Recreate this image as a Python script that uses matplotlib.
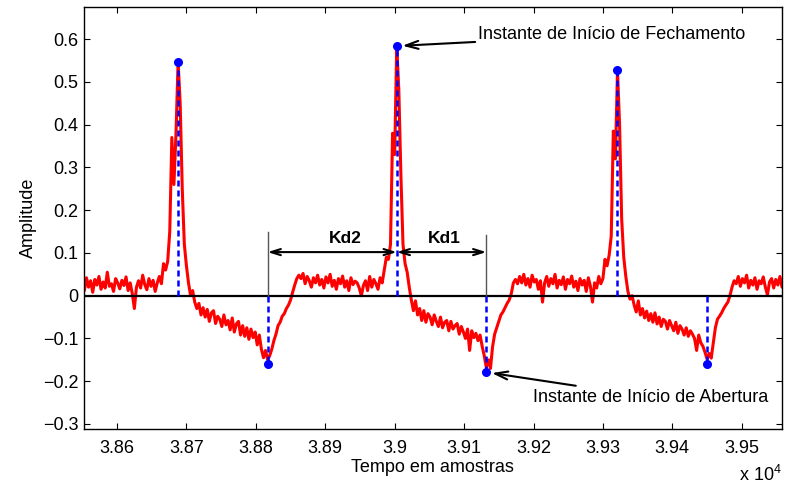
import matplotlib
matplotlib.use("Agg")
import matplotlib.pyplot as plt
import numpy as np

plt.rcParams["font.family"] = ["Liberation Sans", "DejaVu Sans"]
plt.rcParams["mathtext.fontset"] = "custom"
plt.rcParams["mathtext.rm"] = "Liberation Sans"

# sinal amostrado a cada 3 amostras a partir de 38550
amostra_inicial = 38550
passo = 3
amplitude = [
	0.030, 0.012, 0.042, 0.020, 0.035, 0.008, 0.038, 0.025, 0.045, 0.015,
	0.032, 0.018, 0.055, 0.022, 0.028, 0.010, 0.040, 0.030, 0.016, 0.036,
	0.024, 0.044, 0.012, 0.030, 0.005, -0.030, 0.020, 0.035, 0.018, 0.048,
	0.026, 0.014, 0.040, 0.022, 0.036, 0.010, 0.030, 0.045, 0.028, 0.075,
	0.060, 0.080, 0.150, 0.370, 0.260, 0.380, 0.547, 0.450, 0.250, 0.120,
	0.070, 0.030, 0.000, 0.012, -0.015, -0.030, -0.018, -0.045, -0.028, -0.050,
	-0.032, -0.060, -0.040, -0.035, -0.065, -0.048, -0.055, -0.072, -0.045, -0.068,
	-0.058, -0.080, -0.052, -0.085, -0.066, -0.060, -0.092, -0.070, -0.095, -0.075,
	-0.102, -0.078, -0.098, -0.085, -0.115, -0.092, -0.125, -0.145, -0.128, -0.150,
	-0.140, -0.125, -0.105, -0.090, -0.070, -0.062, -0.048, -0.042, -0.030, -0.022,
	-0.010, 0.008, 0.025, 0.040, 0.048, 0.040, 0.052, 0.028, 0.045, 0.035,
	0.020, 0.042, 0.030, 0.048, 0.025, 0.038, 0.018, 0.044, 0.030, 0.050,
	0.022, 0.036, 0.015, 0.040, 0.028, 0.046, 0.020, 0.035, 0.012, 0.042,
	0.026, 0.034, 0.030, 0.018, 0.000, 0.024, 0.035, 0.012, 0.045, 0.020,
	0.038, 0.028, 0.015, 0.042, 0.030, 0.060, 0.090, 0.085, 0.120, 0.380,
	0.330, 0.584, 0.480, 0.280, 0.120, 0.075, 0.055, 0.020, -0.010, -0.035,
	-0.012, -0.045, -0.030, -0.058, -0.035, -0.062, -0.042, -0.050, -0.068, -0.045,
	-0.060, -0.072, -0.050, -0.075, -0.062, -0.058, -0.082, -0.060, -0.078, -0.070,
	-0.065, -0.090, -0.072, -0.085, -0.100, -0.078, -0.128, -0.082, -0.098, -0.088,
	-0.105, -0.092, -0.118, -0.140, -0.168, -0.150, -0.170, -0.120, -0.090, -0.075,
	-0.060, -0.045, -0.038, -0.028, -0.018, -0.010, 0.005, 0.030, 0.038, 0.028,
	0.045, 0.030, 0.050, 0.025, 0.040, 0.020, 0.048, 0.032, 0.038, 0.015,
	0.035, -0.015, 0.030, 0.045, 0.022, 0.040, 0.028, 0.050, 0.018, 0.036,
	0.026, 0.044, 0.015, 0.038, 0.028, 0.046, 0.020, 0.034, 0.012, 0.040,
	0.025, 0.036, 0.010, 0.042, 0.022, -0.015, 0.030, 0.018, 0.045, 0.028,
	0.040, 0.085, 0.070, 0.095, 0.140, 0.385, 0.320, 0.527, 0.400, 0.180,
	0.090, 0.045, 0.010, -0.008, 0.000, -0.022, -0.038, -0.012, -0.045, -0.030,
	-0.052, -0.036, -0.058, -0.042, -0.062, -0.040, -0.066, -0.050, -0.072, -0.055,
	-0.060, -0.078, -0.058, -0.070, -0.082, -0.062, -0.088, -0.070, -0.078, -0.092,
	-0.075, -0.095, -0.082, -0.090, -0.100, -0.128, -0.092, -0.110, -0.118, -0.132,
	-0.148, -0.135, -0.146, -0.110, -0.075, -0.055, -0.048, -0.040, -0.030, -0.022,
	-0.015, 0.000, 0.020, 0.035, 0.028, 0.045, 0.022, 0.040, 0.030, 0.048,
	0.018, 0.036, 0.025, 0.042, 0.015, 0.035, 0.028, 0.044, 0.020, 0.002,
	0.032, 0.040, 0.018, 0.038, 0.025, 0.045, 0.020, 0.035,
]

# instantes de inicio de fechamento (picos) e de abertura (vales)
fech_x = [38688, 39003, 39321]
fech_y = [0.547, 0.584, 0.527]
aber_x = [38817, 39132, 39450]
aber_y = [-0.160, -0.179, -0.160]

xticks = [38600, 38700, 38800, 38900, 39000, 39100, 39200, 39300, 39400, 39500]
xtick_labels = ["3.86", "3.87", "3.88", "3.89", "3.9", "3.91", "3.92", "3.93", "3.94", "3.95"]
yticks = [-0.3, -0.2, -0.1, 0, 0.1, 0.2, 0.3, 0.4, 0.5, 0.6]
ytick_labels = ["\u22120.3", "\u22120.2", "\u22120.1", "0", "0.1", "0.2", "0.3", "0.4", "0.5", "0.6"]

t = amostra_inicial + passo * np.arange(len(amplitude))

fig = plt.figure(figsize=(7.88, 4.91), dpi=100)
ax = fig.add_axes([0.1062, 0.1257, 0.8862, 0.8607])

ax.plot(t, amplitude, color="#ff0000", linewidth=2.2, zorder=2)
ax.axhline(0, color="black", linewidth=1.6, zorder=3)

# linhas tracejadas ligando os instantes ao eixo zero
for xs, ys in ((fech_x, fech_y), (aber_x, aber_y)):
	for x, y in zip(xs, ys):
		ax.plot([x, x], [0, y], color="#0000ff", linewidth=1.8,
				dashes=(2.4, 1.6), zorder=4)
	ax.plot(xs, ys, "o", color="#0000ff", markersize=5.5, zorder=5)

# marcadores dos intervalos Kd1 e Kd2
ax.plot([aber_x[0], aber_x[0]], [0, 0.150], color="#555555", linewidth=1.0, zorder=3)
ax.plot([aber_x[1], aber_x[1]], [0, 0.142], color="#555555", linewidth=1.0, zorder=3)
seta = dict(arrowstyle="<->,head_length=0.7,head_width=0.22", color="black",
			linewidth=1.5, shrinkA=0, shrinkB=0)
ax.annotate("", xy=(aber_x[0], 0.102), xytext=(fech_x[1], 0.102), arrowprops=seta, zorder=6)
ax.annotate("", xy=(fech_x[1], 0.102), xytext=(aber_x[1], 0.102), arrowprops=seta, zorder=6)
ax.text(38929, 0.133, "Kd2", fontsize=12.5, fontweight="bold", ha="center", va="center")
ax.text(39071, 0.133, "Kd1", fontsize=12.5, fontweight="bold", ha="center", va="center")

seta_simples = dict(arrowstyle="->,head_length=0.7,head_width=0.22", color="black",
					linewidth=1.5, shrinkA=0, shrinkB=4)
ax.annotate("Instante de Início de Fechamento", xy=(fech_x[1], fech_y[1]),
			xytext=(39120, 0.610), ha="left", va="center", fontsize=13,
			arrowprops=seta_simples, zorder=6)
ax.annotate("Instante de Início de Abertura", xy=(aber_x[1], aber_y[1]),
			xytext=(39199, -0.237), ha="left", va="center", fontsize=13,
			arrowprops=seta_simples, zorder=6)

ax.set_xlim(38552, 39558)
ax.set_ylim(-0.3124, 0.676)
ax.set_xticks(xticks)
ax.set_xticklabels(xtick_labels)
ax.set_yticks(yticks)
ax.set_yticklabels(ytick_labels)
ax.tick_params(direction="in", length=4, width=0.8, top=True, right=True,
			   labelsize=13, pad=4)
ax.tick_params(axis="x", pad=8)
for s in ax.spines.values():
	s.set_linewidth(1.0)

ax.set_xlabel("Tempo em amostras", fontsize=13, labelpad=1)
ax.set_ylabel("Amplitude", fontsize=13, labelpad=4)
fig.text(0.992, 0.012, r"x 10$^{\mathregular{4}}$", fontsize=13, ha="right", va="bottom")

fig.savefig("out.png", dpi=100)
